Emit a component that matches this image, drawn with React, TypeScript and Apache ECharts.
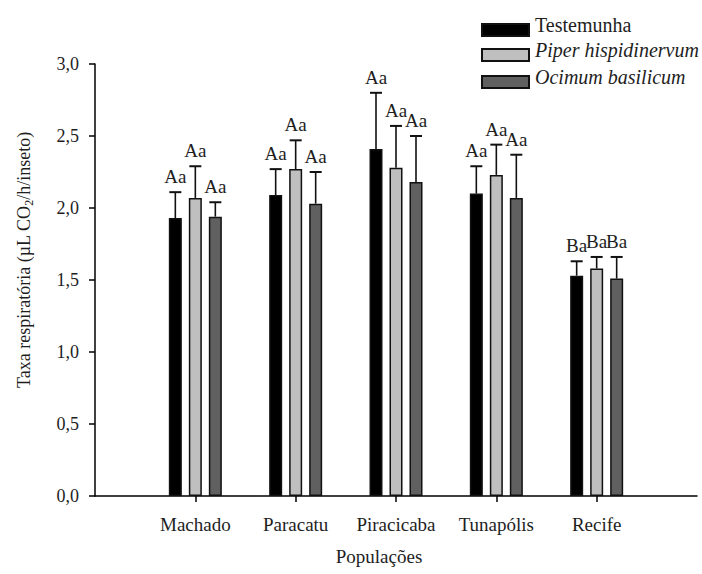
import React, { useEffect, useRef } from "react";
import * as echarts from "echarts";

const categories = ["Machado", "Paracatu", "Piracicaba", "Tunapólis", "Recife"];
const seriesNames = ["Testemunha", "Piper hispidinervum", "Ocimum basilicum"];
const seriesItalic = [false, true, true];

const testemunha = [1.93, 2.09, 2.41, 2.1, 1.53];
const testemunhaUpper = [2.11, 2.27, 2.8, 2.29, 1.63];
const piper = [2.07, 2.27, 2.28, 2.23, 1.58];
const piperUpper = [2.29, 2.47, 2.57, 2.44, 1.66];
const ocimum = [1.94, 2.03, 2.18, 2.07, 1.51];
const ocimumUpper = [2.04, 2.25, 2.5, 2.37, 1.66];

const testemunhaLetters = ["Aa", "Aa", "Aa", "Aa", "Ba"];
const piperLetters = ["Aa", "Aa", "Aa", "Aa", "Ba"];
const ocimumLetters = ["Aa", "Aa", "Aa", "Aa", "Ba"];

const yTicks = [0, 0.5, 1, 1.5, 2, 2.5, 3];

const FONT = "Liberation Serif";
const TXT = "#1e1e1e";
const colors = ["#000000", "#bfbfbf", "#606060"];

const BAR_W = 13;
const BAR_STEP = 20;

export default function App() {
  const ref = useRef<HTMLDivElement>(null);

  useEffect(() => {
    if (!ref.current) return;
    const chart = echarts.init(ref.current, null, { renderer: "svg" });

    const axisCats = ["", ...categories, ""];
    const pad = (arr: number[]) => ["-", ...arr, "-"];

    const values = [testemunha, piper, ocimum];
    const uppers = [testemunhaUpper, piperUpper, ocimumUpper];
    const letters = [testemunhaLetters, piperLetters, ocimumLetters];

    const errData: any[] = [];
    values.forEach((vals, s) => {
      vals.forEach((v, i) => {
        errData.push([i + 1, uppers[s][i], s - 1, v, letters[s][i]]);
      });
    });

    const barSeries = seriesNames.map((name, s) => ({
      type: "bar",
      name,
      data: pad(values[s]),
      barWidth: BAR_W,
      barGap: ((BAR_STEP - BAR_W) / BAR_W) * 100 + "%",
      itemStyle: {
        color: colors[s],
        borderColor: "#111",
        borderWidth: 1.5,
      },
      z: 2,
    }));

    const legendTops = [18, 43, 70];
    const legends = seriesNames.map((name, s) => ({
      orient: "vertical",
      left: 476,
      top: legendTops[s],
      itemWidth: 47,
      itemHeight: 12,
      icon: "rect",
      data: [name],
      formatter: () => "",
      textStyle: { fontSize: 1, lineHeight: 12, padding: 0 },
    }));

    const legendTexts = seriesNames.map((name, s) => ({
      type: "text",
      x: 535,
      y: legendTops[s] + 6.5,
      style: {
        text: name,
        fontFamily: FONT,
        fontSize: 20,
        fontStyle: seriesItalic[s] ? "italic" : "normal",
        fill: TXT,
        verticalAlign: "middle",
        align: "left",
      },
    }));

    const option: any = {
      animation: false,
      backgroundColor: "#ffffff",
      textStyle: { fontFamily: FONT },
      grid: { left: 95, right: 5, top: 64, bottom: 78, containLabel: false },
      legend: legends,
      graphic: legendTexts,
      xAxis: {
        type: "category",
        data: axisCats,
        boundaryGap: false,
        name: "Populações",
        nameLocation: "middle",
        nameGap: 51,
        nameTextStyle: { fontFamily: FONT, fontSize: 19, color: TXT, padding: [0, 34, 0, 0] },
        axisLine: { lineStyle: { color: "#000", width: 1.5 } },
        axisTick: {
          length: 6,
          interval: (i: number) => i > 0 && i < axisCats.length - 1,
          lineStyle: { color: "#000", width: 1.5 },
        },
        axisLabel: { interval: 0, margin: 19, fontFamily: FONT, fontSize: 19, color: TXT },
        splitLine: { show: false },
      },
      yAxis: {
        type: "value",
        min: yTicks[0],
        max: yTicks[yTicks.length - 1],
        interval: 0.5,
        name: "Taxa respiratória (µL CO{s|2}/h/inseto)",
        nameLocation: "middle",
        nameGap: 60,
        nameTextStyle: {
          fontFamily: FONT,
          fontSize: 18,
          color: TXT,
          padding: [0, 0, 0, 40],
          rich: {
            s: { fontFamily: FONT, fontSize: 12, color: TXT, padding: [10, 0, 0, 0] },
          },
        },
        axisLine: { show: true, lineStyle: { color: "#000", width: 1.5 } },
        axisTick: { show: true, length: 6, lineStyle: { color: "#000", width: 1.5 } },
        axisLabel: {
          margin: 16,
          fontFamily: FONT,
          fontSize: 18,
          color: TXT,
          formatter: (v: number) => v.toFixed(1).replace(".", ","),
        },
        splitLine: { show: false },
      },
      series: [
        ...barSeries,
        {
          type: "custom",
          name: "err",
          data: errData,
          encode: { x: 0, y: 1 },
          z: 3,
          silent: true,
          renderItem: (params: any, api: any) => {
            const item = errData[params.dataIndex];
            const top = api.coord([item[0], item[1]]);
            const base = api.coord([item[0], item[3]]);
            const x = top[0] + item[2] * BAR_STEP;
            const yTop = top[1];
            const yBase = base[1];
            const half = 6;
            return {
              type: "group",
              children: [
                {
                  type: "line",
                  shape: { x1: x, y1: yBase, x2: x, y2: yTop },
                  style: { stroke: "#111", lineWidth: 1.6 },
                },
                {
                  type: "line",
                  shape: { x1: x - half, y1: yTop, x2: x + half, y2: yTop },
                  style: { stroke: "#111", lineWidth: 2 },
                },
                {
                  type: "text",
                  x: x,
                  y: yTop - 6,
                  style: {
                    text: item[4],
                    fontFamily: FONT,
                    fontSize: 19,
                    fill: TXT,
                    align: "center",
                    verticalAlign: "bottom",
                  },
                },
              ],
            };
          },
        },
      ],
    };

    chart.setOption(option);
    return () => chart.dispose();
  }, []);

  return (
    <div
      ref={ref}
      style={{ position: "fixed", left: 0, top: 0, width: 702, height: 574, background: "#fff" }}
    />
  );
}
